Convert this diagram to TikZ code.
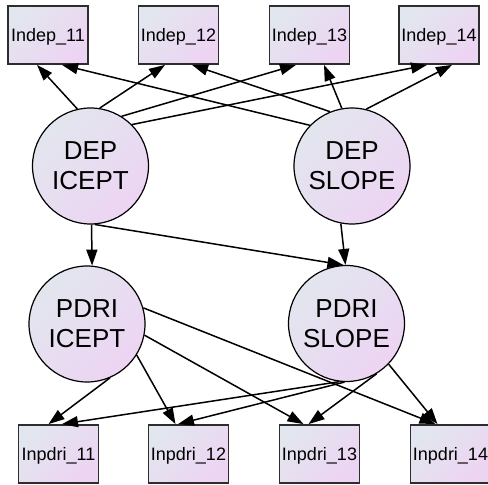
\documentclass[tikz,border=0pt]{standalone}
\usepackage{fontspec}
\setmainfont{Liberation Sans}
\usetikzlibrary{arrows.meta}
\definecolor{shadeA}{RGB}{226,230,238}
\definecolor{shadeB}{RGB}{237,212,243}
\definecolor{boxline}{RGB}{45,45,45}
\begin{document}
\begin{tikzpicture}[x=1pt,y=-1pt,
  obs/.style={draw=boxline, line width=1.8pt, top color=shadeA, bottom color=shadeB, shading angle=45,
    minimum width=80pt, minimum height=58pt, inner sep=0pt,
    font=\fontsize{18}{21}\selectfont, text height=13pt, text depth=0pt},
  lat/.style={circle, draw=black, line width=1.2pt, top color=shadeA, bottom color=shadeB, shading angle=45,
    minimum size=116pt, inner sep=0pt, align=center, font=\fontsize{26}{30}\selectfont},
  reg/.style={draw=black, line width=1.5pt, -{Triangle[length=16pt,width=11pt]}}
]
\useasboundingbox (0,0) rectangle (488,485);

% observed top
\node[obs] (i11) at (48,35) {Indep\_11};
\node[obs] (i12) at (178.5,35) {Indep\_12};
\node[obs] (i13) at (309.5,35) {Indep\_13};
\node[obs] (i14) at (439,35) {Indep\_14};

% latent
\node[lat] (di) at (90.5,166) {DEP\\ICEPT};
\node[lat] (ds) at (352,166) {DEP\\SLOPE};
\node[lat] (pi) at (87,324) {PDRI\\ICEPT};
\node[lat] (ps) at (346.5,323.5) {PDRI\\SLOPE};

% observed bottom
\node[obs] (o11) at (58.5,454) {Inpdri\_11};
\node[obs] (o12) at (188.5,454) {Inpdri\_12};
\node[obs] (o13) at (319.5,454) {Inpdri\_13};
\node[obs] (o14) at (450.5,454) {Inpdri\_14};

% DEP ICEPT -> Indep
\draw[reg] (di.103) -- ([xshift=-11pt]i11.south);
\draw[reg] (di.81) -- ([xshift=-13.5pt]i12.south);
\draw[reg] (di.58) -- ([xshift=-13.5pt]i13.south);
\draw[reg] (di.45) -- ([xshift=-12pt]i14.south);
% DEP SLOPE -> Indep
\draw[reg] (ds.136) -- ([xshift=14pt]i11.south);
\draw[reg] (ds.112) -- ([xshift=13.5pt]i12.south);
\draw[reg] (ds.100) -- ([xshift=14.5pt]i13.south);
\draw[reg] (ds.76) -- ([xshift=13pt]i14.south);
% DEP -> PDRI
\draw[reg] (di.-89) -- (pi.85);
\draw[reg] (di.-86) -- (ps.93);
\draw[reg] (ds.-101) -- (ps.91);
% PDRI ICEPT -> Inpdri
\draw[reg] (pi.-67) -- ([xshift=-10pt]o11.north);
\draw[reg] (pi.-32) -- ([xshift=-13pt]o12.north);
\draw[reg] (pi.-11) -- ([xshift=-16pt]o13.north);
\draw[reg] (pi.16) -- ([xshift=-15pt]o14.north);
% PDRI SLOPE -> Inpdri
\draw[reg] (ps.-97) -- ([xshift=3.5pt]o11.north);
\draw[reg] (ps.-92) -- ([xshift=-10.5pt]o12.north);
\draw[reg] (ps.-59) -- ([xshift=-11pt]o13.north);
\draw[reg] (ps.-44) -- ([xshift=-13pt]o14.north);
\end{tikzpicture}
\end{document}
